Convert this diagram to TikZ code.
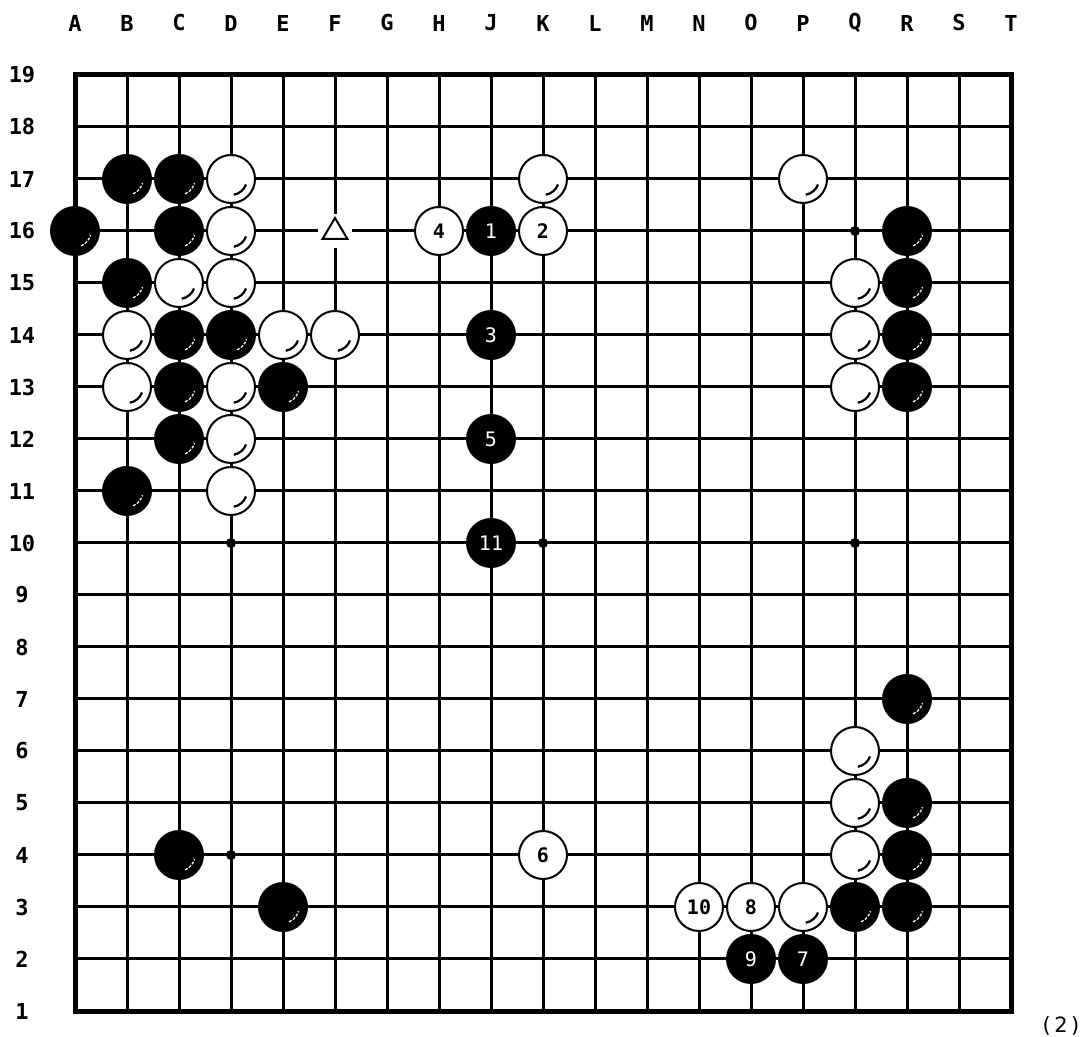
\documentclass[tikz,border=0pt]{standalone}
\usepackage{fontspec}
\setmonofont{DejaVu Sans Mono}
\setsansfont{DejaVu Sans}
\tikzset{
  bstone/.style={circle, fill=black, minimum size=50pt, inner sep=0pt, text=white,
    font=\ttfamily\fontsize{20}{20}\selectfont},
  wstone/.style={circle, fill=white, draw=black, line width=2pt, minimum size=48pt, inner sep=0pt,
    text=black, font=\ttfamily\bfseries\fontsize{20}{20}\selectfont},
  bhl/.style={white, line width=1.2pt, dash pattern=on 3pt off 1.5pt},
  whl/.style={black, line width=2.2pt},
  lbl/.style={font=\ttfamily\bfseries\fontsize{22}{22}\selectfont, inner sep=0pt},
  gridline/.style={line width=3pt},
  border/.style={line width=5pt},
  starpt/.style={circle, fill=black, minimum size=10pt, inner sep=0pt}
}
\begin{document}
\begin{tikzpicture}[x=1pt,y=1pt]
\useasboundingbox (0,0) rectangle (1084,1036);
\fill[white] (0,0) rectangle (1084,1036);
% grid
\foreach \i in {1,...,17} {
  \draw[gridline] ({75+52*\i},25) -- ({75+52*\i},961);
  \draw[gridline] (75,{25+52*\i}) -- (1011,{25+52*\i});
}
\draw[border] (75,25) rectangle (1011,961);
% star points
\foreach \c in {3,9,15} \foreach \r in {4,10,16}
  \node[starpt] (s\c-\r) at ({75+52*\c},{52*\r-27}) {};
% labels
\foreach \l [count=\i from 0] in {A,B,C,D,E,F,G,H,J,K,L,M,N,O,P,Q,R,S,T}
  \node[lbl] (col\l) at ({75+52*\i},1013) {\l};
\foreach \r in {1,...,19}
  \node[lbl] (row\r) at (22,{52*\r-27}) {\r};
% triangle mark at F16
\fill[white] (335,805) circle (17);
\draw[line width=2pt, line join=miter] (335,818) -- (322.5,797) -- (347.5,797) -- cycle;
% black stones
\foreach \c/\r in {1/17,2/17,0/16,2/16,16/16,1/15,16/15,2/14,3/14,16/14,2/13,4/13,16/13,2/12,1/11,16/7,16/5,2/4,16/4,4/3,15/3,16/3} {
  \node[bstone] (b\c-\r) at ({75+52*\c},{52*\r-27}) {};
  \draw[bhl] (b\c-\r.center) ++(-68:16) arc[start angle=-68, end angle=-15, radius=16];
}
% white stones
\foreach \c/\r in {3/17,9/17,14/17,3/16,2/15,3/15,15/15,1/14,4/14,5/14,15/14,1/13,3/13,15/13,3/12,3/11,15/6,15/5,15/4,14/3} {
  \node[wstone] (w\c-\r) at ({75+52*\c},{52*\r-27}) {};
  \draw[whl] (w\c-\r.center) ++(-80:16) arc[start angle=-80, end angle=-20, radius=16];
}
% numbered stones
\foreach \c/\r/\n in {8/16/1,8/14/3,8/12/5,8/10/11,14/2/7,13/2/9}
  \node[bstone] (m\n) at ({75+52*\c},{52*\r-27}) {\n};
\foreach \c/\r/\n in {9/16/2,7/16/4,9/4/6,13/3/8,12/3/10}
  \node[wstone] (m\n) at ({75+52*\c},{52*\r-27}) {\n};
% figure number
\node[font=\sffamily\fontsize{21}{21}\selectfont, inner sep=0pt] (fig) at (1061,10) {(\,2\,)};
\end{tikzpicture}
\end{document}
